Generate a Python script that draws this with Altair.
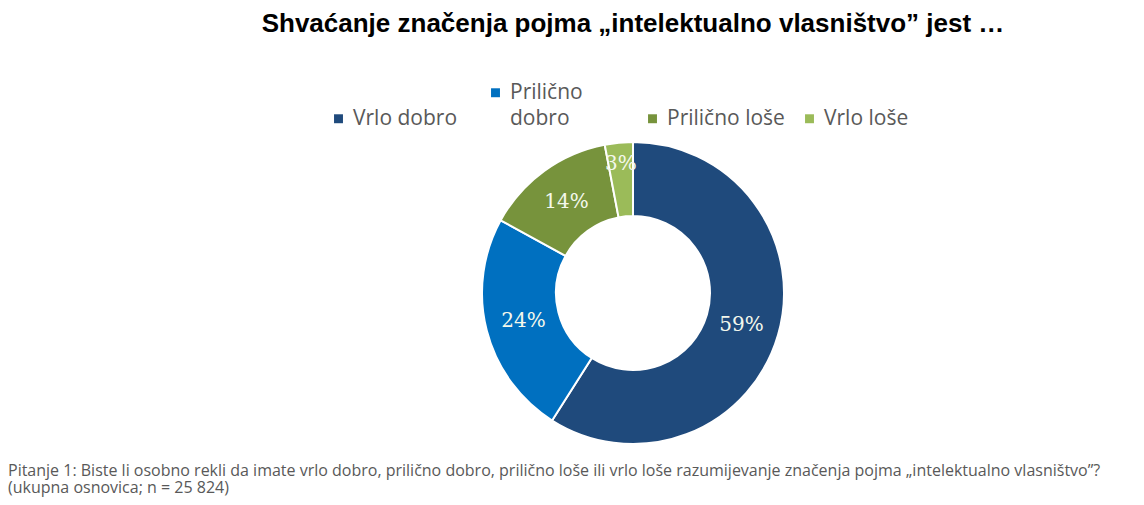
import altair as alt
import pandas as pd

categories = ["Vrlo dobro", "Prilično dobro", "Prilično loše", "Vrlo loše"]
values = [59, 24, 14, 3]
labels = ["59%", "24%", "14%", "3%"]
colors = ["#1F4A7C", "#0070C0", "#77933C", "#9BBB59"]

title_text = "Shvaćanje značenja pojma „intelektualno vlasništvo” jest …"
footnote_lines = [
    "Pitanje 1: Biste li osobno  rekli da imate vrlo dobro, prilično dobro, prilično loše ili vrlo loše razumijevanje značenja  pojma „intelektualno vlasništvo”?",
    "(ukupna osnovica; n = 25 824)",
]

df = pd.DataFrame({
    "category": categories,
    "value": values,
    "label": labels,
    "order": list(range(len(categories))),
})

color = alt.Color(
    "category:N",
    scale=alt.Scale(domain=categories, range=colors),
    sort=categories,
    legend=alt.Legend(
        title=None,
        orient="none",
        legendX=198,
        legendY=-58,
        direction="horizontal",
        columns=4,
        gridAlign="all",
        columnPadding=14,
        symbolType="square",
        symbolSize=80,
        symbolStrokeWidth=0,
        labelFont="Open Sans",
        labelFontSize=21,
        labelColor="#595959",
        labelOffset=4,
        labelLimit=300,
        padding=0,
        labelExpr="datum.label == 'Prilično dobro' ? ['Prilično', 'dobro', ''] : datum.label",
    ),
)

base = alt.Chart(df).encode(
    theta=alt.Theta("value:Q", stack=True),
    order=alt.Order("order:Q"),
)

arcs = base.mark_arc(outerRadius=151, innerRadius=77, stroke="white", strokeWidth=2).encode(
    color=color
)

text = base.mark_text(
    radius=alt.expr("datum.value < 5 ? 130 : 113"),
    font="DejaVu Serif", fontSize=20, color="#F4F8EC",
).encode(text="label:N")

foot = alt.Chart(pd.DataFrame({"k": [0]})).mark_text(
    align="left", baseline="alphabetic", font="Open Sans", fontSize=16,
    color="#595959", lineHeight=17,
).encode(
    x=alt.value(-122), y=alt.value(336), text=alt.value(footnote_lines)
)

chart = alt.layer(arcs, text, foot).properties(
    width=1006,
    height=306,
    padding={"left": 122, "top": 132, "right": 0, "bottom": 51},
    autosize=alt.AutoSizeParams(type="none"),
    title=alt.TitleParams(
        title_text,
        font="Liberation Sans",
        fontSize=26,
        fontWeight="bold",
        color="#000000",
        anchor="middle",
        frame="group",
        baseline="alphabetic",
        offset=24,
    ),
).configure(
    style={"guide-label": {"lineHeight": 26}},
    view=alt.ViewConfig(stroke=None),
)

chart.save("out.html", embed_options={"renderer": "svg", "actions": False})
